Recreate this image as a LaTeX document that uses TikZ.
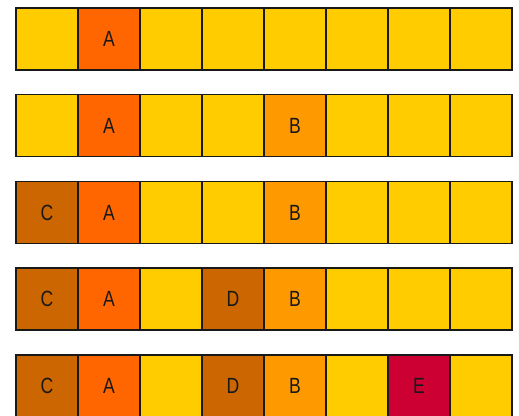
\documentclass[tikz,border=0pt]{standalone}
\usepackage{fontspec}
\setmainfont{Liberation Sans}
\begin{document}
\begin{tikzpicture}[x=1pt,y=1pt,
  cell/.style={draw=black!90, line width=1.5pt, anchor=north west, minimum width=62pt, minimum height=62pt, inner sep=0pt, outer sep=0pt, text=black!90, font=\fontsize{22}{24}\selectfont},
  celle/.style={cell, fill=cY},
  cella/.style={cell, fill=cA},
  cellb/.style={cell, fill=cB},
  cellc/.style={cell, fill=cC},
  celld/.style={cell, fill=cC},
  cellx/.style={cell, fill=cE}]
\definecolor{cY}{HTML}{FFCC00}
\definecolor{cA}{HTML}{FF6600}
\definecolor{cB}{HTML}{FF9900}
\definecolor{cC}{HTML}{CC6600}
\definecolor{cE}{HTML}{CC0033}
\useasboundingbox (0,0) rectangle (519,415);
\clip (0,0) rectangle (519,415);
\foreach \row/\spec in {1/{e/,a/A,e/,e/,e/,e/,e/,e/},2/{e/,a/A,e/,e/,b/B,e/,e/,e/},3/{c/C,a/A,e/,e/,b/B,e/,e/,e/},4/{c/C,a/A,e/,d/D,b/B,e/,e/,e/},5/{c/C,a/A,e/,d/D,b/B,e/,x/E,e/}}{
  \foreach \t/\lab [count=\i] in \spec {
    \node[cell\t] (r\row c\i) at ({16+62*(\i-1)},{415-8-86.75*(\row-1)}) {\scalebox{0.8}[1]{\lab}};
  }
}
\end{tikzpicture}
\end{document}
